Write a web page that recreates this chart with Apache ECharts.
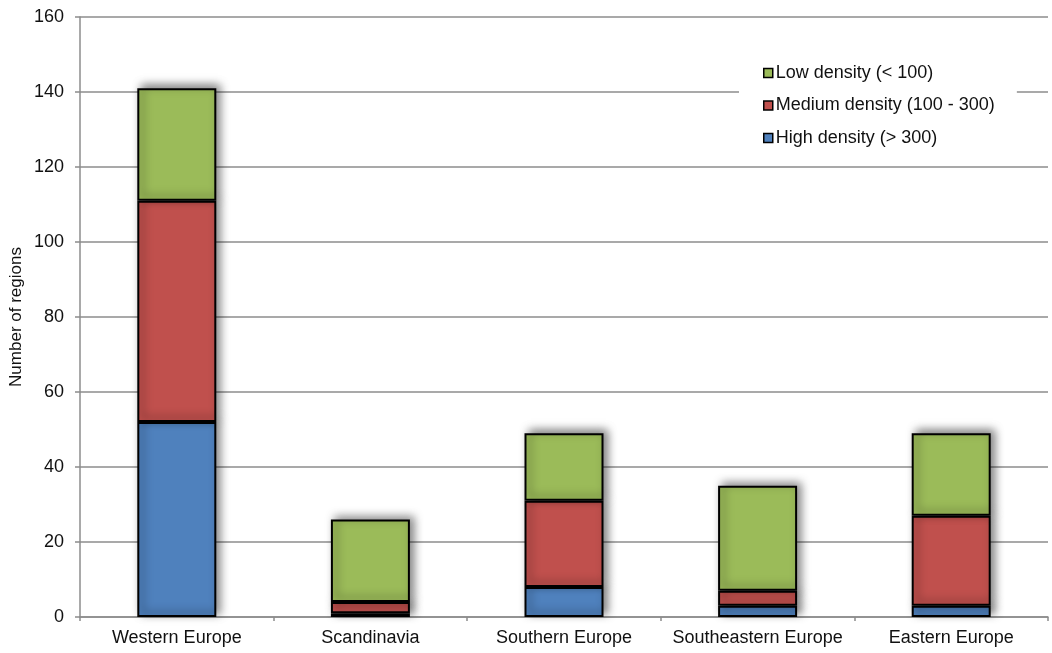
<!DOCTYPE html>
<html>
<head>
<meta charset="utf-8">
<script src="https://cdn.jsdelivr.net/npm/echarts@6/dist/echarts.min.js"></script>
<style>
  html, body { margin: 0; padding: 0; background: #fff; }
  #chart { width: 1052px; height: 653px; }
</style>
</head>
<body>
<div id="chart"></div>
<script>
// Regions of Europe grouped by population density class
const categories = ['Western Europe', 'Scandinavia', 'Southern Europe', 'Southeastern Europe', 'Eastern Europe'];
const highDensity = [52, 1, 8, 3, 3];
const mediumDensity = [59, 3, 23, 4, 24];
const lowDensity = [30, 22, 18, 28, 22];
const yTicks = { min: 0, max: 160, interval: 20 };

const FONT = '"Liberation Sans", Arial, sans-serif';

function barSeries(name, data, color) {
  return {
    name: name,
    type: 'bar',
    stack: 'total',
    data: data,
    barWidth: 79,
    itemStyle: {
      color: color,
      borderColor: '#000',
      borderWidth: 2,
      shadowColor: 'rgba(0,0,0,0.5)',
      shadowBlur: 9,
      shadowOffsetX: 4,
      shadowOffsetY: -3
    },
    emphasis: { disabled: true }
  };
}

const chart = echarts.init(document.getElementById('chart'), null, { renderer: 'canvas' });
chart.setOption({
  animation: false,
  backgroundColor: '#fff',
  textStyle: { fontFamily: FONT },
  grid: { left: 80, right: 4, top: 17, bottom: 36, containLabel: false, outerBoundsMode: 'none' },
  legend: {
    orient: 'vertical',
    left: 739,
    top: 56,
    padding: [8, 22, 8, 24],
    backgroundColor: '#fff',
    itemWidth: 9,
    itemHeight: 9,
    itemGap: 14.5,
    icon: 'rect',
    data: ['Low density (< 100)', 'Medium density (100 - 300)', 'High density (> 300)'],
    itemStyle: { borderColor: '#000', borderWidth: 1.5, shadowBlur: 0, shadowOffsetX: 0, shadowOffsetY: 0 },
    textStyle: { fontSize: 18, color: '#111', fontFamily: FONT, padding: [0, 0, 0, -2] },
    selectedMode: false
  },
  xAxis: {
    type: 'category',
    data: categories,
    axisLine: { lineStyle: { color: '#8c8c8c', width: 1.5 } },
    axisTick: { show: true, length: 4, interval: 0, alignWithLabel: false, lineStyle: { color: '#8c8c8c', width: 1.5 } },
    axisLabel: { fontSize: 18, color: '#111', margin: 12, interval: 0, fontFamily: FONT }
  },
  yAxis: {
    type: 'value',
    min: yTicks.min,
    max: yTicks.max,
    interval: yTicks.interval,
    name: 'Number of regions',
    nameLocation: 'middle',
    nameGap: 55,
    nameMoveOverlap: false,
    nameTextStyle: { fontSize: 17, color: '#111', fontFamily: FONT },
    axisLine: { show: true, lineStyle: { color: '#8c8c8c', width: 1.5 } },
    axisTick: { show: true, length: 5, lineStyle: { color: '#8c8c8c', width: 1.5 } },
    axisLabel: { fontSize: 18, color: '#111', margin: 16, fontFamily: FONT },
    splitLine: { show: true, lineStyle: { color: '#8c8c8c', width: 1.5 } }
  },
  series: [
    barSeries('High density (> 300)', highDensity, '#4F81BD'),
    barSeries('Medium density (100 - 300)', mediumDensity, '#C0504D'),
    barSeries('Low density (< 100)', lowDensity, '#9BBB59')
  ]
});
</script>
</body>
</html>
